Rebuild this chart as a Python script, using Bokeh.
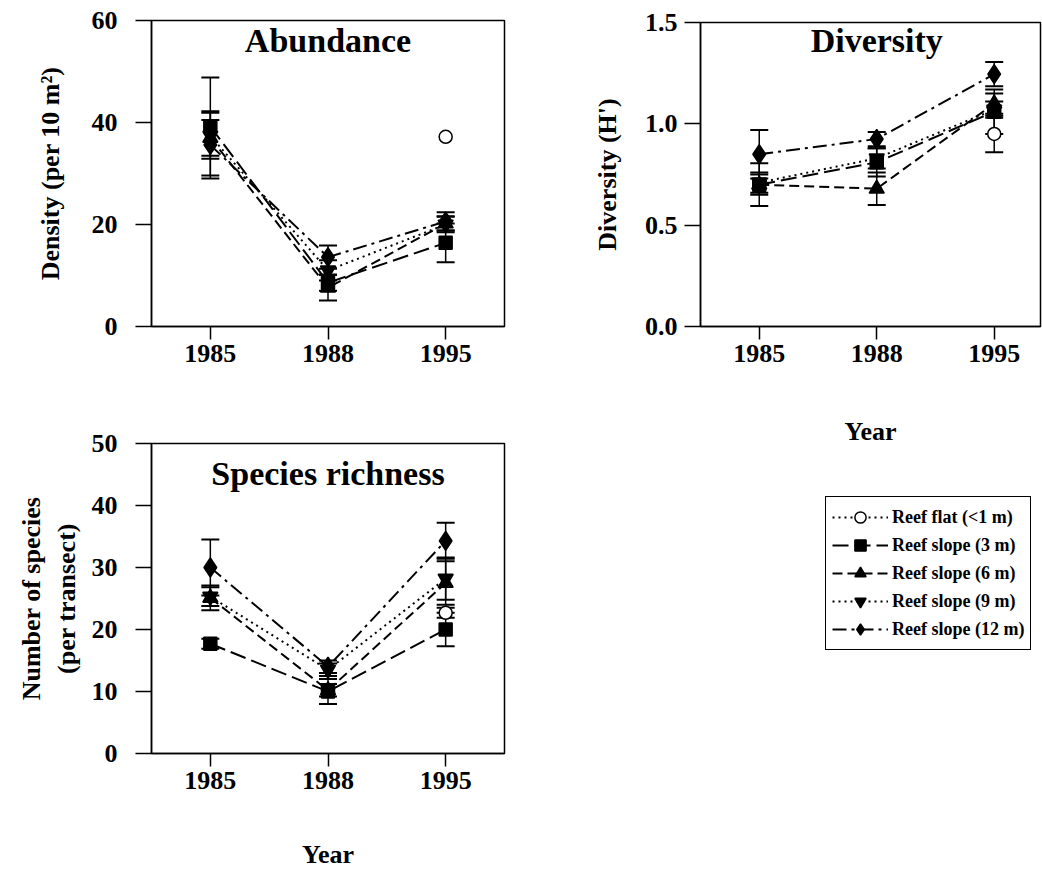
import math
import numpy as np
from bokeh.plotting import figure
from bokeh.layouts import row, column
from bokeh.models import (Range1d, FixedTicker, PrintfTickFormatter, Label, Legend,
                          LegendItem, Whisker, TeeHead, ColumnDataSource)
from bokeh.embed import file_html
from bokeh.resources import INLINE

NaN = float("nan")

# ---------------- data ----------------
years = ["1985", "1988", "1995"]
series_names = ["Reef flat (<1 m)", "Reef slope (3 m)", "Reef slope (6 m)",
                "Reef slope (9 m)", "Reef slope (12 m)"]

# Abundance: density per 10 m2 (mean, SE); reef flat only sampled in 1995
abund_flat = [NaN, NaN, 37.2]
abund_flat_se = [NaN, NaN, NaN]
abund_3 = [39.2, 8.6, 16.4]
abund_3_se = [9.6, 1.6, 3.8]
abund_6 = [37.0, 7.6, 20.2]
abund_6_se = [3.5, 2.5, 1.4]
abund_9 = [37.4, 11.0, 20.0]
abund_9_se = [4.5, 2.0, 1.5]
abund_12 = [35.6, 13.6, 20.6]
abund_12_se = [6.6, 2.3, 1.8]

# Diversity (H')
div_flat = [NaN, NaN, 0.95]
div_flat_se = [NaN, NaN, 0.09]
div_3 = [0.70, 0.81, 1.06]
div_3_se = [0.105, 0.07, 0.11]
div_6 = [0.70, 0.68, 1.10]
div_6_se = [0.05, 0.08, 0.05]
div_9 = [0.71, 0.83, 1.07]
div_9_se = [0.05, 0.05, 0.04]
div_12 = [0.85, 0.925, 1.245]
div_12_se = [0.12, 0.035, 0.06]

# Species richness (number of species per transect)
rich_flat = [NaN, NaN, 22.7]
rich_flat_se = [NaN, NaN, 0.8]
rich_3 = [17.7, 10.0, 20.0]
rich_3_se = [0.8, 2.0, 2.7]
rich_6 = [25.1, 10.2, 27.5]
rich_6_se = [2.0, 1.0, 3.5]
rich_9 = [25.3, 13.5, 28.2]
rich_9_se = [1.5, 1.0, 3.4]
rich_12 = [30.0, 14.0, 34.3]
rich_12_se = [4.5, 1.0, 2.9]

abund_ticks = [0, 20, 40, 60]
div_ticks = [0.0, 0.5, 1.0, 1.5]
rich_ticks = [0, 10, 20, 30, 40, 50]

# ---------------- styles ----------------
FONT = "Liberation Serif"
STYLES = [
    dict(marker="circle", size=13, fill="white", dash="2 4"),
    dict(marker="square", size=13, fill="black", dash="16 6"),
    dict(marker="triangle", size=15, fill="black", dash="10 5"),
    dict(marker="inverted_triangle", size=15, fill="black", dash="2 4"),
    dict(marker="diamond", size=19, fill="black", dash="14 5 3 5"),
]
x_pos = list(range(len(years)))


def make_panel(width, height, bl, br, bt, bb, xr, yr, yticks, yfmt=None):
    p = figure(width=width, height=height, x_range=Range1d(*xr), y_range=Range1d(*yr),
               output_backend="svg", toolbar_location=None,
               min_border_left=bl, min_border_right=br,
               min_border_top=bt, min_border_bottom=bb)
    p.grid.visible = False
    p.background_fill_color = "white"
    p.border_fill_color = "white"
    p.outline_line_color = "black"
    p.outline_line_width = 1.5
    p.outline_line_alpha = 1.0
    p.xaxis.ticker = FixedTicker(ticks=x_pos)
    p.xaxis.major_label_overrides = {i: y for i, y in zip(x_pos, years)}
    p.yaxis.ticker = FixedTicker(ticks=yticks)
    if yfmt:
        p.yaxis.formatter = PrintfTickFormatter(format=yfmt)
    for ax in p.axis:
        ax.axis_line_color = "black"
        ax.axis_line_width = 1.5
        ax.major_tick_line_color = "black"
        ax.major_tick_line_width = 1.5
        ax.major_tick_in = 0
        ax.minor_tick_line_color = None
        ax.major_label_text_font = FONT
        ax.major_label_text_font_style = "bold"
        ax.major_label_text_font_size = "26px"
        ax.major_label_text_color = "black"
        ax.axis_label_text_font = FONT
        ax.axis_label_text_font_style = "bold"
        ax.axis_label_text_font_size = "26px"
        ax.axis_label_text_color = "black"
    p.xaxis.major_tick_out = 13
    p.xaxis.major_label_standoff = 5
    p.yaxis.major_tick_out = 16
    return p


def add_series(p, values, errors):
    for st, vals, ses in zip(STYLES, values, errors):
        v = np.array(vals, dtype=float)
        src = ColumnDataSource(dict(x=np.array(x_pos, dtype=float), y=v))
        p.line("x", "y", source=src, line_color="black", line_width=2, line_dash=st["dash"])
        xs, up, lo = [], [], []
        for x, m, s in zip(x_pos, vals, ses):
            if not (math.isnan(m) or math.isnan(s)):
                xs.append(x)
                up.append(m + s)
                lo.append(m - s)
        if xs:
            wsrc = ColumnDataSource(dict(base=xs, upper=up, lower=lo))
            p.add_layout(Whisker(source=wsrc, base="base", upper="upper", lower="lower",
                                 line_color="black", line_width=1.5,
                                 upper_head=TeeHead(size=18, line_width=2, line_color="black"),
                                 lower_head=TeeHead(size=18, line_width=2, line_color="black")))
        p.scatter("x", "y", source=src, marker=st["marker"], size=st["size"],
                  fill_color=st["fill"], line_color="black", line_width=1.5)


def panel_title(p, text, x, y):
    p.add_layout(Label(x=x, y=y, text=text, text_font=FONT, text_font_style="bold",
                       text_font_size="34px", text_align="center", text_baseline="middle",
                       text_color="black"))


# ---------------- Abundance ----------------
pA = make_panel(554, 374, 151, 50, 20, 48, (-0.5, 2.5), (0, 60), abund_ticks)
pA.yaxis.axis_label = "Density (per 10 m²)"
pA.yaxis.major_label_standoff = 18
pA.yaxis.axis_label_standoff = 24
add_series(pA, [abund_flat, abund_3, abund_6, abund_9, abund_12],
           [abund_flat_se, abund_3_se, abund_6_se, abund_9_se, abund_12_se])
panel_title(pA, "Abundance", 1, 56)

# ---------------- Species richness ----------------
pC = make_panel(554, 497, 151, 50, 69, 116, (-0.5, 2.5), (0, 50), rich_ticks)
pC.yaxis.axis_label = "Number of species\n(per transect)"
pC.yaxis.major_label_standoff = 18
pC.yaxis.axis_label_standoff = 8
pC.xaxis.axis_label = "Year"
pC.xaxis.axis_label_standoff = 48
add_series(pC, [rich_flat, rich_3, rich_6, rich_9, rich_12],
           [rich_flat_se, rich_3_se, rich_6_se, rich_9_se, rich_12_se])
panel_title(pC, "Species richness", 1, 45.2)

# ---------------- Diversity ----------------
pB = make_panel(488, 456, 146, 2, 22, 130, (-0.5, 2.394), (0, 1.5), div_ticks, "%.1f")
pB.yaxis.axis_label = "Diversity (H')"
pB.yaxis.major_label_standoff = 7
pB.yaxis.axis_label_standoff = 20
pB.xaxis.axis_label = "Year"
pB.xaxis.axis_label_standoff = 52
add_series(pB, [div_flat, div_3, div_6, div_9, div_12],
           [div_flat_se, div_3_se, div_6_se, div_9_se, div_12_se])
panel_title(pB, "Diversity", 1, 1.41)

# ---------------- Legend holder ----------------
pD = figure(width=488, height=415, x_range=Range1d(0, 1), y_range=Range1d(0, 1),
            x_axis_type=None, y_axis_type=None, output_backend="svg", toolbar_location=None,
            min_border=0)
pD.grid.visible = False
pD.outline_line_color = None
items = []
for st, name in zip(STYLES, series_names):
    src = ColumnDataSource(dict(x=[10.0, 11.0], y=[10.0, 10.0]))
    lr = pD.line("x", "y", source=src, line_color="black", line_width=2, line_dash=st["dash"])
    sr = pD.scatter("x", "y", source=src, marker=st["marker"], size=st["size"],
                    fill_color=st["fill"], line_color="black", line_width=1.5)
    items.append(LegendItem(label=name, renderers=[lr, sr]))
legend = Legend(items=items, location=(125, 221), orientation="vertical",
                border_line_color="black", border_line_width=1.5, border_line_alpha=1.0,
                background_fill_color="white", background_fill_alpha=1.0,
                label_text_font=FONT, label_text_font_style="bold",
                label_text_font_size="18px", label_text_color="black",
                glyph_width=56, glyph_height=28, label_height=20, spacing=0,
                padding=6, margin=0, label_standoff=4)
pD.add_layout(legend)

layout = row(column(pA, pC), column(pB, pD))

open("out.html", "w").write(file_html(layout, INLINE))
